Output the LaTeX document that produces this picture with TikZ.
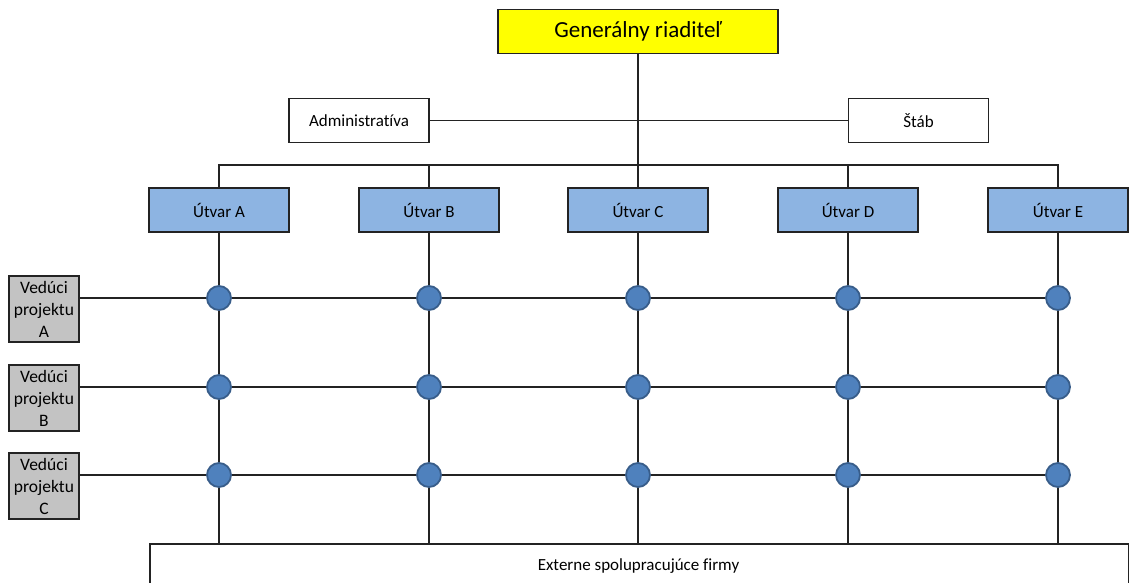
\documentclass[tikz,border=0pt]{standalone}
\usepackage{fontspec}
\setmainfont{Carlito}[Ligatures=NoCommon]
\usetikzlibrary{positioning,backgrounds}
\definecolor{zlta}{RGB}{255,255,0}
\definecolor{modra}{RGB}{141,180,226}
\definecolor{uzolfill}{RGB}{79,129,189}
\definecolor{uzoldraw}{RGB}{56,93,138}
\definecolor{seda}{RGB}{195,195,195}
\definecolor{ciara}{RGB}{35,35,35}
\tikzset{box/.style={draw=ciara,line width=1.6pt,minimum width=140pt,minimum height=44pt,inner sep=0pt,font=\fontsize{17}{20}\selectfont},
  utvar/.style={box,fill=modra},
  veduci/.style={box,fill=seda,minimum width=70pt,minimum height=66pt,align=center,font=\fontsize{17.5}{22}\selectfont},
  uzol/.style={circle,draw=uzoldraw,line width=1.8pt,fill=uzolfill,minimum size=24pt,inner sep=0pt},
  spoj/.style={line width=1.7pt,ciara}}

\begin{document}
\begin{tikzpicture}[x=1pt,y=-1pt]
\useasboundingbox (0,0) rectangle (1129,583);
\node[box,fill=zlta,minimum width=280pt,font=\fontsize{23}{26}\selectfont] (gr) at (638,31.5) {Generálny riaditeľ};
\node[box] (adm) at (359,120.5) {Administratíva};
\node[box] (stab) at (918.5,120.5) {Štáb};
\node[box,minimum width=979pt,minimum height=60pt,anchor=north west] (ext) at (149,543) {};
\node[font=\fontsize{17}{20}\selectfont] (extlbl) at (638.5,566) {Externe spolupracujúce firmy};
\coordinate (zb) at (638,165);
\foreach \i/\x/\p in {0/219/A,1/429/B,2/638/C,3/848/D,4/1058/E}
  \node[utvar] (u\i) at (\x,210) {Útvar \p};
\foreach \j/\y/\p in {0/298/A,1/387/B,2/475/C}{
  \node[veduci] (v\j) at (44,\y+11) {Vedúci\\projektu\\\p};
  \foreach \i/\x in {0/219,1/429,2/638,3/848,4/1058}
    \node[uzol] (k\i\j) at (\x,\y) {};
}
\begin{scope}[on background layer]
\fill[white] (0,0) rectangle (1129,583);
\draw[spoj] (gr.south) -- (zb);
\draw[spoj] (adm.east) -- (stab.west);
\draw[spoj] (u0.north) -- (u0.north |- zb) -- (u4.north |- zb) -- (u4.north);
\foreach \i in {1,2,3} \draw[spoj] (u\i.north) -- (u\i.north |- zb);
\foreach \i in {0,...,4} \draw[spoj] (u\i.south) -- (u\i.south |- ext.north);
\foreach \j in {0,1,2} \draw[spoj] (v\j.east |- k0\j) -- (k4\j);
\end{scope}
\end{tikzpicture}
\end{document}
